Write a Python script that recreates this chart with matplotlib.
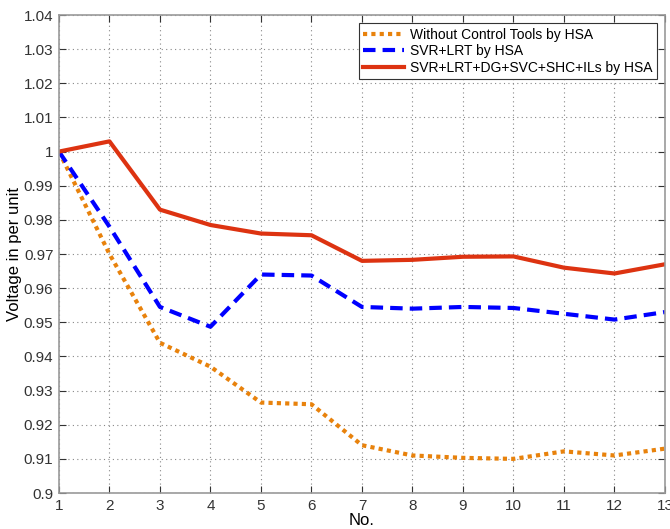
import numpy as np
import matplotlib
matplotlib.use('Agg')
from matplotlib import pyplot as plt
from matplotlib.ticker import FuncFormatter

plt.rcParams['font.family'] = ['Liberation Sans', 'DejaVu Sans']

bus_no = np.arange(1, 14)
no_control = [1.0, 0.970, 0.944, 0.937, 0.9265, 0.926, 0.914, 0.911, 0.9103, 0.910, 0.9122, 0.911, 0.913]
svr_lrt = [1.0, 0.978, 0.9545, 0.9487, 0.964, 0.9637, 0.9545, 0.954, 0.9545, 0.9542, 0.9525, 0.9508, 0.953]
all_tools = [1.0, 1.003, 0.983, 0.9785, 0.976, 0.9755, 0.968, 0.9683, 0.9692, 0.9693, 0.966, 0.9643, 0.967]

labels = ['Without Control Tools by HSA', 'SVR+LRT by HSA', 'SVR+LRT+DG+SVC+SHC+ILs by HSA']

fig = plt.figure(figsize=(6.7, 5.29), dpi=100)
ax = fig.add_axes([0.088, 0.068, 0.9045, 0.9036])

ax.plot(bus_no, no_control, color='#e8820c', lw=3, ls=(0, (1, 1)), label=labels[0])
ax.plot(bus_no, svr_lrt, color='#0000ff', lw=3, ls=(0, (3, 1.7)), label=labels[1])
ax.plot(bus_no, all_tools, color='#dd3311', lw=3, ls='-', label=labels[2])

ax.set_xlim(1, 13)
ax.set_ylim(0.9, 1.04)
ax.set_xticks(bus_no)
ax.set_yticks(np.round(np.arange(0.9, 1.0401, 0.01), 2))
ax.yaxis.set_major_formatter(FuncFormatter(lambda v, p: '%g' % v))
ax.grid(True, ls=(0, (1, 3)), color='#888888', lw=0.8)
ax.tick_params(direction='in', top=True, right=True, labelsize=11, colors='#333333', length=5)
ax.tick_params(axis='x', pad=4)
ax.tick_params(axis='y', pad=4)
for s in ax.spines.values():
    s.set_color('#999999')
    s.set_linewidth(1.2)

ax.set_xlabel('No.', fontsize=12, labelpad=0)
ax.set_ylabel('Voltage in per unit', fontsize=12, labelpad=1)

leg = ax.legend(loc='upper right', fontsize=10, fancybox=False, framealpha=1,
                edgecolor='#333333', handlelength=3.0, borderaxespad=0.6,
                handletextpad=0.4, borderpad=0.3, labelspacing=0.2)
leg.get_frame().set_linewidth(0.8)

fig.savefig('out.png', dpi=100)
